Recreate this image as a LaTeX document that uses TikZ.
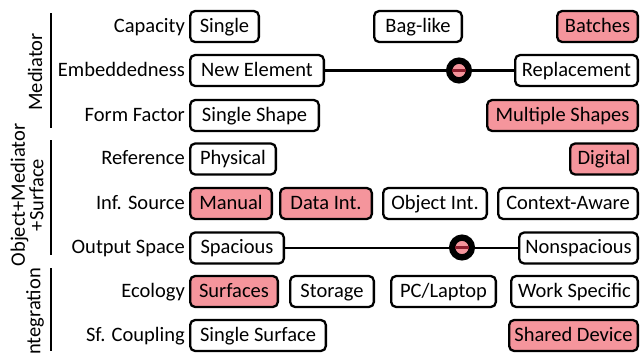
\documentclass[tikz,border=0pt]{standalone}
\usepackage{fontspec}
\setmainfont{Carlito}
\definecolor{hilite}{RGB}{245,149,156}
\definecolor{markline}{RGB}{140,30,45}
\tikzset{
  tag/.style={draw=black, line width=2.3pt, rounded corners=5pt, fill=white,
    inner xsep=0pt, inner ysep=7pt, text height=14pt, text depth=3pt,
    minimum height=31pt, outer sep=0pt},
  hot/.style={tag, fill=hilite},
  rowlabel/.style={anchor=east, inner sep=0pt, text height=14pt, text depth=3pt},
  grouplabel/.style={rotate=90, align=center, inner sep=0pt, font=\fontsize{20.5}{17}\selectfont},
  bracket/.style={line width=2.5pt},
  link/.style={line width=2.3pt},
  marker/.style={circle, draw=black, line width=6.3pt, fill=hilite, minimum size=19.7pt,
    inner sep=0pt, outer sep=0pt},
  markbar/.style={draw=markline, line width=2.6pt, shorten <=3.1pt, shorten >=3.1pt}
}
% place a box by its outer left/right edges: \boxat{name}{style}{left}{right}{y}{text}
\newcommand{\boxat}[6]{%
  \node[#2, minimum width={#4-#3-2.3}] (#1) at ({(#3+#4)/2},#5) {#6};}
\begin{document}
\begin{tikzpicture}[x=1pt, y=-1pt, font=\fontsize{20.5}{24}\selectfont]
\useasboundingbox (0,0) rectangle (642,354);
\clip (0,0) rectangle (642,354);

% group brackets and rotated group names
\coordinate (b1t) at (51,13);  \coordinate (b1b) at (51,128);
\coordinate (b2t) at (51,140); \coordinate (b2b) at (51,255);
\coordinate (b3t) at (51,268); \coordinate (b3b) at (51,351);
\draw[bracket] (b1t) -- (b1b);
\draw[bracket] (b2t) -- (b2b);
\draw[bracket] (b3t) -- (b3b);
\node[grouplabel] (gMed) at (35,72) {Mediator};
\node[grouplabel] (gObj) at (27,195) {Object+Mediator\\+Surface};
\node[grouplabel] (gInt) at (35,314) {Integration};

% row names
\node[rowlabel] (lCap) at (185,26.5)  {Capacity};
\node[rowlabel] (lEmb) at (185,70.5)  {Embeddedness};
\node[rowlabel] (lFor) at (185,115.5) {Form Factor};
\node[rowlabel] (lRef) at (185,159)   {Reference};
\node[rowlabel] (lInf) at (185,203.5) {Inf. Source};
\node[rowlabel] (lOut) at (185,248)   {Output Space};
\node[rowlabel] (lEco) at (185,291.5) {Ecology};
\node[rowlabel] (lSfc) at (185,335.5) {Sf. Coupling};

% Capacity
\boxat{single}{tag}{189}{260}{26.5}{Single}
\boxat{bag}{tag}{373}{463}{26.5}{Bag-like}
\boxat{batches}{hot}{556}{639}{26.5}{Batches}
% Embeddedness
\boxat{newel}{tag}{189}{325}{70.5}{New Element}
\boxat{repl}{tag}{514}{639}{70.5}{Replacement}
% Form Factor
\boxat{sshape}{tag}{189}{320}{115.5}{Single Shape}
\boxat{mshape}{hot}{486}{639}{115.5}{Multiple Shapes}
% Reference
\boxat{phys}{tag}{189}{277}{159}{Physical}
\boxat{digi}{hot}{569}{639}{159}{Digital}
% Inf. Source
\boxat{manual}{hot}{189}{273}{203.5}{Manual}
\boxat{dataint}{hot}{279}{373}{203.5}{Data Int.}
\boxat{objint}{tag}{382}{488}{203.5}{Object Int.}
\boxat{ctx}{tag}{497}{639}{203.5}{Context-Aware}
% Output Space
\boxat{spac}{tag}{189}{285}{248}{Spacious}
\boxat{nonspac}{tag}{518}{639}{248}{Nonspacious}
% Ecology
\boxat{surf}{hot}{189}{279}{291.5}{Surfaces}
\boxat{stor}{tag}{289}{375}{291.5}{Storage}
\boxat{pc}{tag}{390}{497}{291.5}{PC/Laptop}
\boxat{work}{tag}{510}{639}{291.5}{Work Specific}
% Sf. Coupling
\boxat{ssurf}{tag}{189}{327}{335.5}{Single Surface}
\boxat{shared}{hot}{508}{639}{335.5}{Shared Device}

% spectrum connectors with position markers
\draw[link] (newel.east) -- (repl.west);
\node[marker] (m1) at (459,70.5) {};
\draw[markbar] (m1.west) -- (m1.east);
\draw[link] (spac.east) -- (nonspac.west);
\node[marker] (m2) at (462,247.5) {};
\draw[markbar] (m2.west) -- (m2.east);
\end{tikzpicture}
\end{document}
